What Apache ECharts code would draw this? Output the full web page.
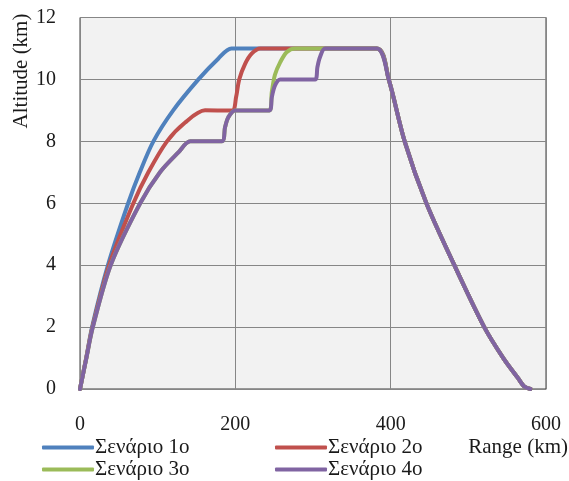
<!DOCTYPE html>
<html>
<head>
<meta charset="utf-8">
<script src="https://cdn.jsdelivr.net/npm/echarts@6/dist/echarts.min.js"></script>
<style>html,body{margin:0;padding:0;background:#fff}#c{width:569px;height:481px}</style>
</head>
<body>
<div id="c"></div>
<script>
// ---- data (km, km) ----
const seriesNames = ['Σενάριο 1ο', 'Σενάριο 2ο', 'Σενάριο 3ο', 'Σενάριο 4ο'];
const xTicks = [0, 200, 400, 600];
const yTicks = [0, 2, 4, 6, 8, 10, 12];

// shared descent (from top of descent to landing)
const descentRange = [382, 397.5, 418, 446, 482, 520.5, 545, 564, 572, 580];
const descentAlt   = [11, 10, 8, 6, 4, 2, 1, 0.35, 0.08, 0];

// Σενάριο 1ο climb
const s1Range = [0, 8, 15.5, 36, 62, 77, 94.5, 120, 152.5, 178, 195];
const s1Alt   = [0, 1, 2, 4, 6, 7, 8, 9, 10, 10.67, 11];

// Σενάριο 2ο climb
const s2Range = [0, 8, 16, 37.5, 68.7, 88, 112, 135, 161, 196, 201, 205, 212.6, 221, 232];
const s2Alt   = [0, 1, 2, 4, 6, 7, 8, 8.6, 9, 9, 9.43, 10, 10.5, 10.83, 11];

// Σενάριο 4ο climb first part (shared with 3ο up to 9 km level)
const s4aRange = [0, 8.2, 16.5, 39.5, 77.5, 103, 127, 142, 182.5, 186.8, 191, 199.7, 244];
const s4aAlt   = [0, 1, 2, 4, 6, 7, 7.65, 8, 8, 8.46, 8.78, 9, 9];

// Σενάριο 3ο after the 9 km level
const s3bRange = [247, 251, 257.7, 266, 277];
const s3bAlt   = [9.6, 10.15, 10.55, 10.88, 11];

// Σενάριο 4ο after the 9 km level
const s4bRange = [247, 251, 257.7, 302.8, 305.7, 309, 315.7];
const s4bAlt   = [9.43, 9.8, 10, 10, 10.4, 10.72, 11];

const colors = ['#4F81BD', '#C0504D', '#9BBB59', '#8064A2'];

function pairs(xs, ys) { return xs.map((x, i) => [x, ys[i]]); }
const descent = pairs(descentRange, descentAlt);
const data1 = pairs(s1Range, s1Alt).concat(descent);
const data2 = pairs(s2Range, s2Alt).concat(descent);
const data3 = pairs(s4aRange, s4aAlt).concat(pairs(s3bRange, s3bAlt), descent);
const data4 = pairs(s4aRange, s4aAlt).concat(pairs(s4bRange, s4bAlt), descent);
const allData = [data1, data2, data3, data4];

const FONT = '"Liberation Serif", "Times New Roman", serif';
const chart = echarts.init(document.getElementById('c'), null, {renderer: 'canvas'});

const legendPos = [[42, 437], [275, 437], [42, 459], [275, 459]];

chart.setOption({
  animation: false,
  backgroundColor: '#ffffff',
  grid: {
    left: 80, right: 23, top: 17.5, bottom: 92,
    show: true, backgroundColor: '#f2f2f2', borderColor: '#3f3f3f', borderWidth: 1
  },
  xAxis: {
    type: 'value', min: xTicks[0], max: xTicks[xTicks.length - 1], interval: 200,
    axisLine: {show: true, lineStyle: {color: '#868686', width: 1}},
    axisTick: {show: false},
    splitLine: {show: true, lineStyle: {color: '#868686', width: 1}},
    axisLabel: {margin: 26, fontFamily: FONT, fontSize: 20, color: '#1a1a1a'}
  },
  yAxis: {
    type: 'value', min: yTicks[0], max: yTicks[yTicks.length - 1], interval: 2,
    axisLine: {show: true, lineStyle: {color: '#868686', width: 1}},
    axisTick: {show: false},
    splitLine: {show: true, lineStyle: {color: '#868686', width: 1}},
    axisLabel: {margin: 24, fontFamily: FONT, fontSize: 20, color: '#1a1a1a'}
  },
  legend: seriesNames.map((n, i) => ({
    data: [n], left: legendPos[i][0], top: legendPos[i][1], padding: 0,
    icon: 'roundRect', itemWidth: 52, itemHeight: 4,
    textStyle: {fontFamily: FONT, fontSize: 21, color: '#1a1a1a', padding: [0, 0, 0, -4]},
    selectedMode: false
  })),
  graphic: [
    {type: 'text', x: 21.5, y: 71, rotation: Math.PI / 2,
     style: {text: 'Altitude (km)', fontFamily: FONT, fontSize: 21, fill: '#1a1a1a', align: 'center', verticalAlign: 'middle'}},
    {type: 'text', x: 568, y: 447,
     style: {text: 'Range (km)', fontFamily: FONT, fontSize: 21, fill: '#1a1a1a', align: 'right', verticalAlign: 'middle'}}
  ],
  series: allData.map((d, i) => ({
    name: seriesNames[i], type: 'line', data: d,
    showSymbol: false, symbol: 'none', smooth: 0.3,
    lineStyle: {color: colors[i], width: 4, cap: 'round', join: 'round'},
    itemStyle: {color: colors[i]},
    z: 2 + i
  }))
});
</script>
</body>
</html>
